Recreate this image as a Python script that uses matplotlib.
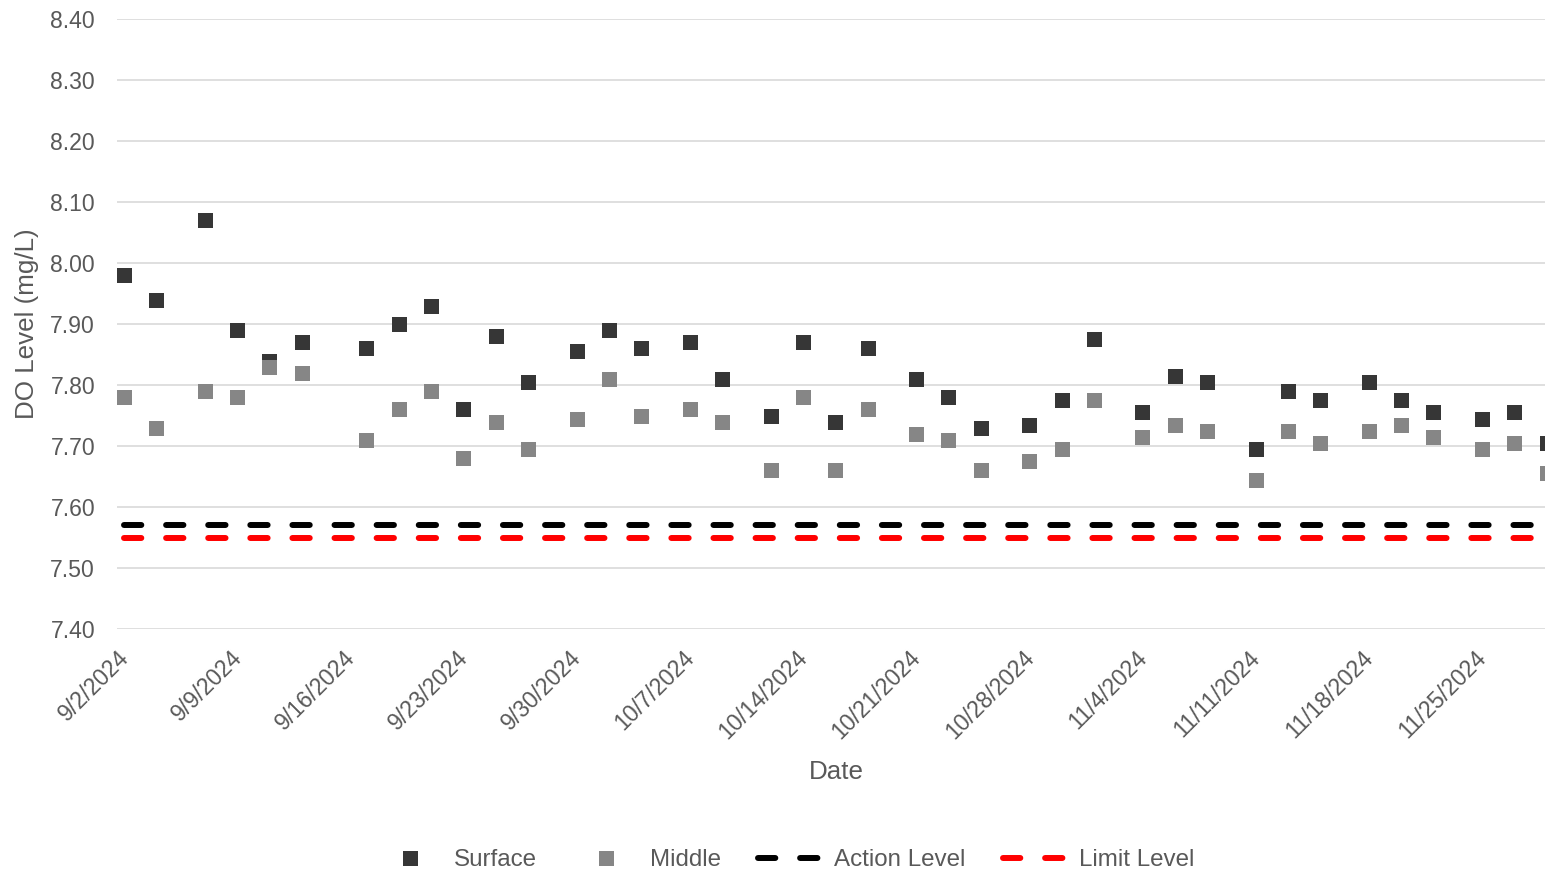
import datetime as dt
import matplotlib
matplotlib.use("Agg")
import matplotlib.pyplot as plt
import matplotlib.dates as mdates
import matplotlib.transforms as mtransforms
from matplotlib.lines import Line2D
from matplotlib.ticker import FuncFormatter

plt.rcParams['font.family'] = ['Liberation Sans', 'DejaVu Sans']

# ---------------- data ----------------
dates_str = ["9/2/2024", "9/4/2024", "9/7/2024", "9/9/2024", "9/11/2024", "9/13/2024",
             "9/17/2024", "9/19/2024", "9/21/2024", "9/23/2024", "9/25/2024", "9/27/2024",
             "9/30/2024", "10/2/2024", "10/4/2024", "10/7/2024", "10/9/2024", "10/12/2024",
             "10/14/2024", "10/16/2024", "10/18/2024", "10/21/2024", "10/23/2024", "10/25/2024",
             "10/28/2024", "10/30/2024", "11/1/2024", "11/4/2024", "11/6/2024", "11/8/2024",
             "11/11/2024", "11/13/2024", "11/15/2024", "11/18/2024", "11/20/2024", "11/22/2024",
             "11/25/2024", "11/27/2024", "11/29/2024"]

surface = [7.98, 7.94, 8.07, 7.89, 7.84, 7.87, 7.86, 7.90, 7.93, 7.76, 7.88, 7.805,
           7.855, 7.89, 7.86, 7.87, 7.81, 7.75, 7.87, 7.74, 7.86, 7.81, 7.78, 7.73,
           7.735, 7.775, 7.875, 7.755, 7.815, 7.805, 7.695, 7.79, 7.775, 7.805, 7.775,
           7.755, 7.745, 7.755, 7.705]

middle = [7.78, 7.73, 7.79, 7.78, 7.83, 7.82, 7.71, 7.76, 7.79, 7.68, 7.74, 7.695,
          7.745, 7.81, 7.75, 7.76, 7.74, 7.66, 7.78, 7.66, 7.76, 7.72, 7.71, 7.66,
          7.675, 7.695, 7.775, 7.715, 7.735, 7.725, 7.645, 7.725, 7.705, 7.725, 7.735,
          7.715, 7.695, 7.705, 7.655]

action_level = 7.57
limit_level = 7.55

series_labels = ["Surface", "Middle", "Action Level", "Limit Level"]
y_ticks = [7.40, 7.50, 7.60, 7.70, 7.80, 7.90, 8.00, 8.10, 8.20, 8.30, 8.40]
x_tick_labels = ["9/2/2024", "9/9/2024", "9/16/2024", "9/23/2024", "9/30/2024",
                 "10/7/2024", "10/14/2024", "10/21/2024", "10/28/2024", "11/4/2024",
                 "11/11/2024", "11/18/2024", "11/25/2024"]

# ---------------- styles ----------------
C_SURF = "#363636"
C_MID = "#868686"
C_TEXT = "#595959"
C_GRID = "#D9D9D9"

dates = [dt.datetime.strptime(s, "%m/%d/%Y") for s in dates_str]
xnum = mdates.date2num(dates)
tick_pos = mdates.date2num([dt.datetime.strptime(s, "%m/%d/%Y") for s in x_tick_labels])

W, H = 1545, 872
fig = plt.figure(figsize=(W / 100, H / 100), dpi=100)
ax = fig.add_axes([117 / W, 1 - 629 / H, (W - 117) / W, (629 - 19) / H])

dash = (0, (2.9, 4.15))
lw_lvl = 4.3

ax.plot([xnum[0], xnum[-1]], [action_level] * 2, color="black", lw=lw_lvl,
        linestyle=dash, dash_capstyle="round", zorder=2)
ax.plot([xnum[0], xnum[-1]], [limit_level] * 2, color="#FF0000", lw=lw_lvl,
        linestyle=dash, dash_capstyle="round", zorder=2)

ax.plot(xnum, surface, linestyle="none", marker="s", markersize=10.8,
        markeredgewidth=0, color=C_SURF, zorder=3)
ax.plot(xnum, middle, linestyle="none", marker="s", markersize=10.8,
        markeredgewidth=0, color=C_MID, zorder=4)

ax.set_ylim(7.40, 8.40)
ax.set_yticks(y_ticks)
ax.yaxis.set_major_formatter(FuncFormatter(lambda v, p: f"{v:.2f}"))
ax.set_xlim(xnum[0] - 0.43, xnum[0] + 87.9)
ax.set_xticks(tick_pos)
ax.set_xticklabels(x_tick_labels)

ax.grid(axis="y", color=C_GRID, lw=1.2)
ax.set_axisbelow(True)
for s in ax.spines.values():
    s.set_visible(False)

ax.tick_params(axis="y", length=0, pad=15.8, labelsize=16.6, labelcolor=C_TEXT)
ax.tick_params(axis="x", length=0, pad=12.5, labelsize=16.6, labelcolor=C_TEXT)
offset = mtransforms.ScaledTranslation(-7 / 100, 0, fig.dpi_scale_trans)
for lab in ax.get_xticklabels():
    lab.set_rotation(45)
    lab.set_ha("right")
    lab.set_va("top")
    lab.set_rotation_mode("anchor")
    lab.set_transform(lab.get_transform() + offset)

fig.text(27 / W, 1 - 324 / H, "DO Level (mg/L)", rotation=90, ha="center",
         va="center", fontsize=18.7, color=C_TEXT)
fig.text(836 / W, 1 - 772 / H, "Date", ha="center", va="center",
         fontsize=18.7, color=C_TEXT)

handles = [
    Line2D([], [], linestyle="none", marker="s", markersize=10.8, markeredgewidth=0, color=C_SURF),
    Line2D([], [], linestyle="none", marker="s", markersize=10.8, markeredgewidth=0, color=C_MID),
    Line2D([], [], color="black", lw=lw_lvl, linestyle=dash, dash_capstyle="round"),
    Line2D([], [], color="#FF0000", lw=lw_lvl, linestyle=dash, dash_capstyle="round"),
]
leg = fig.legend(handles, series_labels, ncol=4, loc="center",
                 bbox_to_anchor=(786 / W, 1 - 860 / H), frameon=False,
                 fontsize=17.4, handlelength=2.63, handletextpad=0.5,
                 columnspacing=1.56, labelcolor=C_TEXT)

fig.savefig("out.png", dpi=100)
